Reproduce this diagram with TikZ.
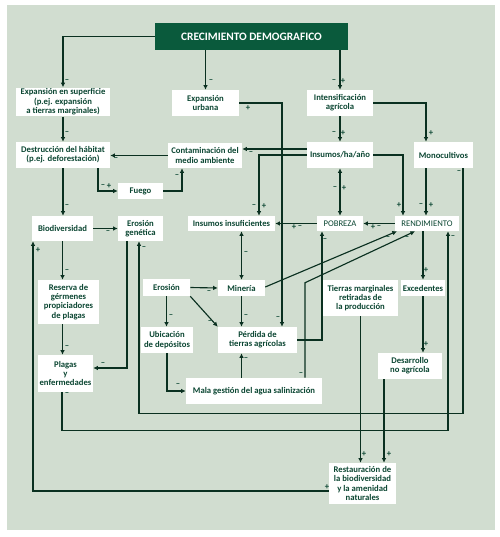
\documentclass[tikz,border=0pt]{standalone}
\usepackage{fontspec}
\setmainfont{Carlito}
\usepackage{xcolor}
\definecolor{ink}{HTML}{0A3020}
\definecolor{forest}{HTML}{0A5A3C}
\definecolor{sage}{HTML}{D1DDD0}
\definecolor{txt}{HTML}{0B4632}
\usetikzlibrary{arrows.meta,calc}
\tikzset{
    box/.style={fill=white, align=center, text=txt, font=\fontsize{6.5}{7}\selectfont\bfseries, inner sep=1pt},
    caps/.style={box, font=\fontsize{6.5}{7}\selectfont},
    head/.style={fill=forest, text=white, font=\fontsize{8.5}{10}\selectfont\bfseries, inner sep=2pt},
    wd/.style={minimum width=#1*0.75pt},
    ht/.style={minimum height=#1*0.75pt},
    link/.style={-{Latex[length=3.5pt,width=3.5pt]}, draw=ink, line width=0.85pt},
    biway/.style={{Latex[length=3.5pt,width=3.5pt]}-{Latex[length=3.5pt,width=3.5pt]}, draw=ink, line width=0.85pt},
    sgn/.style={text=txt, font=\fontsize{6.5}{6.5}\selectfont\bfseries, inner sep=0pt}
}
\begin{document}
\begin{tikzpicture}[x=0.75pt, y=-0.75pt]
  \useasboundingbox (0,0) rectangle (500,537);
  \fill[sage] (7,5) rectangle (495,530);

  % Top
  \node[head, wd=193, ht=27] (cd) at (251.5,36.5) {CRECIMIENTO DEMOGRAFICO};

  % First row
  \node[box, wd=94, ht=28] (expsup) at (63,102) {Expansión en superficie\\(p.ej. expansión\\a tierras marginales)};
  \node[box, wd=67, ht=26] (expurb) at (205.5,103) {Expansión\\urbana};
  \node[box, wd=66, ht=26] (intens) at (340,103) {Intensificación\\agrícola};

  % Second row
  \node[box, wd=94, ht=26] (destr) at (63,155) {Destrucción del hábitat\\(p.ej. deforestación)};
  \node[box, wd=74, ht=25] (contam) at (205,155.5) {Contaminación del\\medio ambiente};
  \node[box, wd=66, ht=26] (insumos) at (340,155) {Insumos/ha/año};
  \node[box, wd=59, ht=26] (monoc) at (443.5,155) {Monocultivos};
  \node[box, wd=45, ht=16] (fuego) at (140.5,191) {Fuego};

  % Third row
  \node[box, wd=61, ht=25] (biodiv) at (62.5,228.5) {Biodiversidad};
  \node[box, wd=45, ht=25] (erogen) at (140.5,228.5) {Erosión\\genética};
  \node[box, wd=87, ht=15] (insinsuf) at (231.5,223.5) {Insumos insuficientes};
  \node[caps, wd=46, ht=15] (pobreza) at (340,223.5) {POBREZA};
  \node[caps, wd=64, ht=15] (rendim) at (427,223.5) {RENDIMIENTO};

  % Fourth row
  \node[box, wd=61, ht=44] (reserva) at (68.5,302) {Reserva de\\gérmenes\\propiciadores\\de plagas};
  \node[box, wd=47, ht=17] (erosion) at (166.5,287.5) {Erosión};
  \node[box, wd=47, ht=16] (mineria) at (241.5,288) {Minería};
  \node[box, wd=75, ht=36] (tierras) at (360.5,298) {Tierras marginales\\retiradas de\\la producción};
  \node[box, wd=44, ht=16] (exced) at (423,288) {Excedentes};

  % Fifth row
  \node[box, wd=52, ht=26] (ubic) at (167,340) {Ubicación\\de depósitos};
  \node[box, wd=79, ht=26] (perdida) at (257.5,340) {Pérdida de\\tierras agrícolas};
  \node[box, wd=55, ht=37] (plagas) at (65.5,373.5) {Plagas\\y\\enfermedades};
  \node[box, wd=64, ht=26] (desarr) at (410,366) {Desarrollo\\no agrícola};
  \node[box, wd=136, ht=26] (mala) at (254,391) {Mala gestión del agua salinización};

  % Bottom
  \node[box, wd=67, ht=41] (restaur) at (362.5,483.5) {Restauración de\\la biodiversidad\\y la amenidad\\naturales};

  % From the top box
  \draw[link] (cd.west) -| (expsup.north) node[sgn] at (67,81) {–};
  \draw[link] (cd.south -| expurb.north) -- (expurb.north) node[sgn] at (211,81) {–};
  \draw[link] (cd.south -| intens.north) -- (intens.north)
    node[sgn] at (334,81) {–} node[sgn] at (343,81) {+};

  % Left column
  \draw[link] (expsup.south) -- (destr.north) node[sgn] at (67,133) {–};
  \draw[link] (destr.south) -- (destr.south |- biodiv.north) node[sgn] at (67,206) {–};
  \draw[link] ($(destr.south)+(35,0)$) |- (fuego.west)
    node[sgn] at (103,186) {–} node[sgn] at (109,186) {+};
  \draw[link] (fuego.east) -| ($(contam.south)+(-23,0)$) node[sgn] at (177,176) {–};
  \draw[link] (contam.west) -- (contam.west -| destr.east) node[sgn] at (116,159) {–};
  \draw[link] (biodiv.east) -- (erogen.west) node[sgn] at (108,232) {–};
  \draw[link] (biodiv.south) -- (biodiv.south |- reserva.north) node[sgn] at (67,271) {–};
  \draw[link] (biodiv.south |- reserva.south) -- (biodiv.south |- plagas.north) node[sgn] at (67,347) {–};
  \draw[link] ($(erogen.south)+(-13.5,0)$) |- ($(plagas.east)+(0,-5.5)$) node[sgn] at (103,364) {–};

  % Middle
  \draw[link] (expurb.east) -| ($(perdida.north)+(24.5,0)$)
    node[sgn] at (248,108) {+} node[sgn] at (278,318) {–};
  \draw[link] (intens.south) -- (insumos.north)
    node[sgn] at (334,133) {–} node[sgn] at (343,133) {+};
  \draw[link] (intens.east) -| ($(monoc.north)+(-17.5,0)$) node[sgn] at (431,133) {+};
  \draw[link] ($(insumos.west)+(0,-6)$) -- ($(contam.east)+(0,-6.5)$) node[sgn] at (251,153) {–};
  \draw[link] (insumos.west) -| ($(insinsuf.north)+(27.5,0)$)
    node[sgn] at (254,206) {–} node[sgn] at (264,206) {+};
  \draw[link] (insumos.east) -| ($(rendim.north)+(-24,0)$) node[sgn] at (399,205) {+};
  \draw[biway] (insumos.south) -- (pobreza.north)
    node[sgn] at (335,188) {–} node[sgn] at (344,188) {+};
  \draw[link] ($(monoc.south)+(-17.5,0)$) -- ($(rendim.north)+(-1,0)$)
    node[sgn] at (421,205) {–} node[sgn] at (431,205) {+};
  \draw[link] ($(monoc.south)+(19.5,0)$) -- ++(0,245) -| ($(erogen.south)+(-1.5,0)$)
    node[sgn] at (459,172) {–} node[sgn] at (144,248) {–};
  \draw[link] (pobreza.west) -- (insinsuf.east)
    node[sgn] at (294,227) {+} node[sgn] at (300,227) {–};
  \draw[link] (rendim.west) -- (pobreza.east)
    node[sgn] at (373,227) {+} node[sgn] at (379,227) {–};
  \draw[biway] (mineria.north |- insinsuf.south) -- (mineria.north) node[sgn] at (246,253) {–};
  \draw[link] ($(mineria.east)+(0,-1)$) -- ($(rendim.south)+(-30,0)$) node[sgn] at (388,238) {–};
  \draw[link] ($(mala.north)+(51,0)$) -- ++(0,-95) -- ($(rendim.south)+(-12,0)$)
    node[sgn] at (301,374) {–} node[sgn] at (407,238) {–};
  \draw[link] (perdida.east) -| ($(pobreza.south)+(-18,0)$) node[sgn] at (325,240) {–};

  % Erosion cluster
  \draw[link] (erosion.east) -- (mineria.west) node[sgn] at (209,292) {–};
  \draw[link] (erosion.south) -- (erosion.south |- ubic.north) node[sgn] at (171,316) {–};
  \draw[link] (erosion.south east) -- (perdida.north west) node[sgn] at (210,322) {–};
  \draw[link] (mineria.south) -- (mineria.south |- perdida.north) node[sgn] at (246,316) {–};
  \draw[link] (ubic.south) |- (mala.west) node[sgn] at (178,385) {–};
  \draw[link] (mineria.south |- mala.north) -- (mineria.south |- perdida.south) node[sgn] at (246,359) {–};

  % Right column
  \draw[link] (exced.north |- rendim.south) -- (exced.north) node[sgn] at (426,270) {+};
  \draw[link] (exced.south) -- (exced.south |- desarr.north) node[sgn] at (426,344) {+};
  \draw[link] (tierras.south) -- (tierras.south |- restaur.north) node[sgn] at (364,454) {+};
  \draw[link] ($(desarr.south)+(-26,0)$) -- ($(restaur.north)+(21.5,0)$) node[sgn] at (389,454) {+};

  % Long loops
  \draw[link] ($(plagas.south)+(-3.5,0)$) -- ++(0,38) -| ($(rendim.south)+(21,0)$)
    node[sgn] at (67,394) {–} node[sgn] at (453,237) {–};
  \draw[link] ($(restaur.west)+(0,7.5)$) -| ($(biodiv.south)+(-29.5,0)$)
    node[sgn] at (327,487) {+} node[sgn] at (38,250) {+};
\end{tikzpicture}
\end{document}
